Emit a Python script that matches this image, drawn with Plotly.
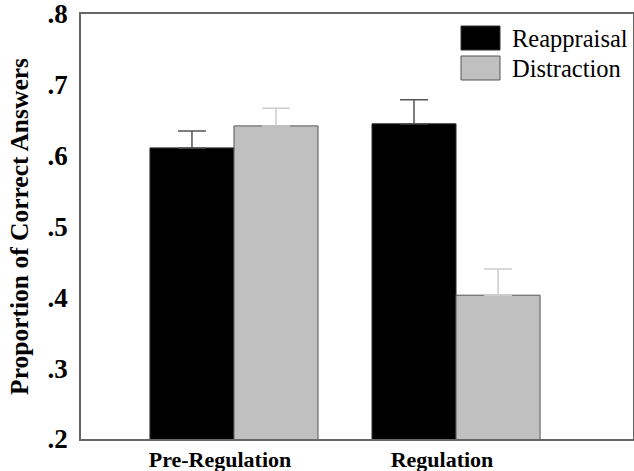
import plotly.graph_objects as go

categories = ["Pre-Regulation", "Regulation"]
series_names = ["Reappraisal", "Distraction"]
reappraisal = [0.611, 0.645]
reappraisal_err = [0.024, 0.034]
distraction = [0.642, 0.403]
distraction_err = [0.025, 0.037]
y_tickvals = [0.2, 0.3, 0.4, 0.5, 0.6, 0.7, 0.8]
y_ticktext = [".2", ".3", ".4", ".5", ".6", ".7", ".8"]

W, H = 634, 471
ml, mr, mt, mb = 81, 1, 14, 32

fig = go.Figure()
fig.add_trace(go.Bar(
    x=categories, y=reappraisal, name=series_names[0],
    marker=dict(color="#000000", line=dict(color="#333333", width=1)),
    error_y=dict(type="data", array=reappraisal_err, symmetric=False,
                 arrayminus=[0, 0], color="#555555", thickness=1.5, width=14),
    showlegend=False,
))
fig.add_trace(go.Bar(
    x=categories, y=distraction, name=series_names[1],
    marker=dict(color="#c0c0c0", line=dict(color="#555555", width=1)),
    error_y=dict(type="data", array=distraction_err, symmetric=False,
                 arrayminus=[0, 0], color="#cccccc", thickness=1.5, width=14),
    showlegend=False,
))

# custom legend (large swatches), positions in screen pixels
pw = W - ml - mr
ph = H - mt - mb
def px_x(x):
    return (x - ml) / pw
def px_y(y):
    return 1 - (y - mt) / ph

legend_fill = ["#000000", "#c0c0c0"]
legend_line = ["#333333", "#555555"]
for i, name in enumerate(series_names):
    y0 = 26 + i * 30
    fig.add_shape(type="rect", xref="paper", yref="paper",
                  x0=px_x(461), x1=px_x(500), y0=px_y(y0), y1=px_y(y0 + 24),
                  fillcolor=legend_fill[i], line=dict(color=legend_line[i], width=1))
    fig.add_annotation(xref="paper", yref="paper", x=px_x(510), y=px_y(y0 + 12),
                       text=name, showarrow=False, xanchor="left", yanchor="middle",
                       font=dict(family="Liberation Serif", size=24.5, color="#000"))

fig.update_layout(
    width=W, height=H,
    margin=dict(l=ml, r=mr, t=mt, b=mb, autoexpand=False),
    paper_bgcolor="white", plot_bgcolor="white",
    barmode="group", bargap=0.243, bargroupgap=0,
    font=dict(family="Liberation Serif", color="#000"),
    xaxis=dict(
        type="category", range=[-0.689, 1.797], automargin=False,
        showline=True, linecolor="#666666", linewidth=1.5, mirror=True,
        showgrid=False, zeroline=False, ticks="",
        tickfont=dict(family="Liberation Serif", size=22, color="#000", weight="bold"),
        ticklabelshift=-14, ticklabelstandoff=0, ticklabeloverflow="allow",
    ),
    yaxis=dict(
        range=[0.2, 0.8], tickvals=y_tickvals, ticktext=y_ticktext, automargin=False,
        showline=True, linecolor="#666666", linewidth=1.5, mirror=True,
        showgrid=False, zeroline=False, ticks="",
        tickfont=dict(family="Liberation Serif", size=27, color="#000", weight="bold"),
        ticklabelstandoff=6, ticklabeloverflow="allow",
        title=dict(text="Proportion of Correct Answers", standoff=12,
                   font=dict(family="Liberation Serif", size=25.5, color="#000", weight="bold")),
    ),
)

fig.write_html("out.html", config={"displayModeBar": False},
               post_script="document.body.style.margin='0';document.body.style.overflow='hidden';")
